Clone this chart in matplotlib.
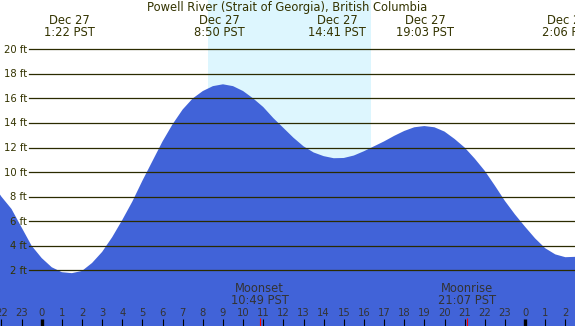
import matplotlib
matplotlib.use("Agg")
import matplotlib.pyplot as plt
import matplotlib.transforms as mtransforms

# hours since Dec 27 00:00 PST, tide height in ft
hours = [-2.5, -2.0, -1.5, -1.0, -0.5, 0.0, 0.5, 1.0, 1.5, 2.0,
         2.5, 3.0, 3.5, 4.0, 4.5, 5.0, 5.5, 6.0, 6.5, 7.0,
         7.5, 8.0, 8.5, 9.0, 9.5, 10.0, 10.5, 11.0, 11.5, 12.0,
         12.5, 13.0, 13.5, 14.0, 14.5, 15.0, 15.5, 16.0, 16.5, 17.0,
         17.5, 18.0, 18.5, 19.0, 19.5, 20.0, 20.5, 21.0, 21.5, 22.0,
         22.5, 23.0, 23.5, 24.0, 24.5, 25.0, 25.5, 26.0, 26.5, 27.0]
heights = [9.2, 8.0, 7.0, 5.5, 4.0, 3.0, 2.25, 1.85, 1.77, 1.95,
           2.6, 3.5, 4.7, 6.1, 7.6, 9.3, 10.9, 12.5, 13.9, 15.1,
           16.0, 16.6, 17.0, 17.15, 17.0, 16.6, 16.0, 15.3, 14.4, 13.6,
           12.8, 12.1, 11.6, 11.3, 11.13, 11.15, 11.35, 11.7, 12.1, 12.5,
           12.95, 13.35, 13.65, 13.75, 13.65, 13.3, 12.7, 12.0, 11.1, 10.1,
           8.9, 7.65, 6.55, 5.55, 4.6, 3.8, 3.3, 3.07, 3.1, 3.3]

tide_dates = ["Dec 27", "Dec 27", "Dec 27", "Dec 27", "Dec 28"]
tide_times = ["1:22", "8:50", "14:41", "19:03", "2:06"]
tide_day = [0, 0, 0, 0, 1]

sun_times = ["8:16", "16:21"]
moon_events = ["Moonset", "Moonrise"]
moon_times = ["10:49", "21:07"]

ft_levels = [2, 4, 6, 8, 10, 12, 14, 16, 18, 20]
hour_ticks = list(range(-2, 27))

TITLE = "Powell River (Strait of Georgia), British Columbia"

BG = "#b0c4de"
DAY = "#ddf6fe"
WATER = "#4163d8"
INK = "#333300"
GRID = "#2b2b00"


def to_h(s, day=0):
    hh, mm = s.split(":")
    return int(hh) + int(mm) / 60 + 24 * day


W, H = 575, 326
fig = plt.figure(figsize=(W / 100, H / 100), dpi=100)
ax = fig.add_axes([0, 0, 1, 1])
ax.set_facecolor(BG)

# pixel calibration of the reference: x = 41.7 + 20.14*h, y = 294.9 - 12.28*ft
ax.set_xlim(-41.7 / 20.14, (W - 41.7) / 20.14)
ax.set_ylim((294.9 - H) / 12.28, 294.9 / 12.28)
ax.axis("off")

ax.axvspan(to_h(sun_times[0]), to_h(sun_times[1]), color=DAY, zorder=1, lw=0)
ax.fill_between(hours, heights, -10, color=WATER, lw=0, zorder=2)

fs_small = 7.2   # axis labels
fs_big = 8.3     # title, tide and moon labels

ft_tr = mtransforms.blended_transform_factory(ax.transAxes, ax.transData)
for v in ft_levels:
    ax.axhline(v, xmin=29 / W, xmax=1, color=GRID, lw=0.9, zorder=3)
    ax.text(27 / W, v - 0.28, f"{v} ft", transform=ft_tr,
            ha="right", va="baseline", fontsize=fs_small, color=INK, zorder=4)

bt = mtransforms.blended_transform_factory(ax.transData, ax.transAxes)


def py(p):
    # pixel row from top -> axes fraction
    return (H - p) / H


ax.text(0.5, py(10.7), TITLE, transform=ax.transAxes, ha="center", va="baseline",
        fontsize=fs_big, color=INK, zorder=5)

for d, t, dd in zip(tide_dates, tide_times, tide_day):
    h = to_h(t, dd)
    ax.text(h, py(24), d, transform=bt, ha="center", va="baseline",
            fontsize=fs_big, color=INK, zorder=5)
    ax.text(h, py(36), f"{t} PST", transform=bt, ha="center", va="baseline",
            fontsize=fs_big, color=INK, zorder=5)

for name, t in zip(moon_events, moon_times):
    h = to_h(t)
    ax.text(h, py(291.7), name, transform=bt, ha="center", va="baseline",
            fontsize=fs_big, color="#333333", zorder=5)
    ax.text(h, py(304), f"{t} PST", transform=bt, ha="center", va="baseline",
            fontsize=fs_big, color="#333333", zorder=5)
    ax.vlines(h, 0, 8 / H, transform=bt, color="red", lw=0.8, zorder=5)

for hh in hour_ticks:
    ax.text(hh, py(316), str(hh % 24), transform=bt, ha="center", va="baseline",
            fontsize=fs_small, color="#333333", zorder=5)
    thick = hh % 24 == 0
    ax.vlines(hh, 0, 7 / H, transform=bt, color="black", lw=2.4 if thick else 0.8, zorder=5)

fig.savefig("out.png", dpi=100)
